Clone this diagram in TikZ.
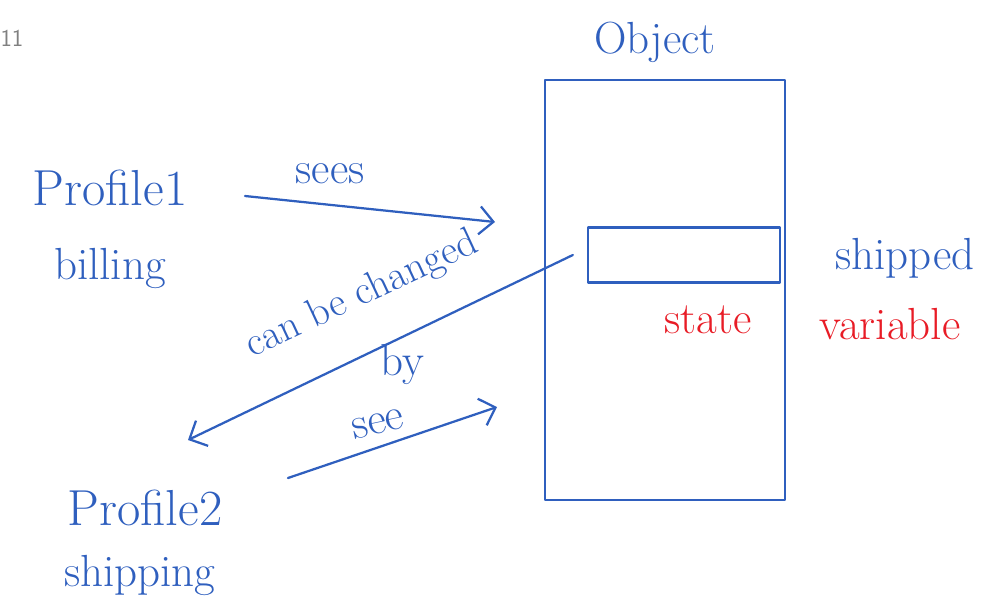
\documentclass[tikz,border=0pt]{standalone}
\usepackage{tikz}
\usetikzlibrary{arrows.meta}

\definecolor{penblue}{RGB}{47,95,190}
\definecolor{penred}{RGB}{232,28,38}

\begin{document}
\begin{tikzpicture}[x=0.025cm,y=-0.025cm,
    hand/.style={text=penblue,font=\fontsize{32}{38}\selectfont,inner sep=1pt},
    redhand/.style={text=penred,font=\fontsize{32}{38}\selectfont,inner sep=1pt},
    pen/.style={draw=penblue,line width=1.6pt,line cap=round,line join=round},
    arr/.style={pen,-{Straight Barb[length=3.5mm,width=7mm,line width=1.6pt]}}]
  \useasboundingbox (0,0) rectangle (1002,614);

  % page number
  \node[text=gray,font=\sffamily\LARGE,inner sep=1pt] (pg) at (12,38) {11};

  % the object and its state variable
  \node[pen,minimum width=6cm,minimum height=10.5cm] (obj) at (665,290) {};
  \node[hand] (objlbl) at (655,42) {Object};
  \node[pen,minimum width=4.8cm,minimum height=1.375cm] (state) at (684,255) {};
  \node[hand] (shipped) at (905,258) {shipped};
  \node[redhand] (st) at (708,320) {state};
  \node[redhand] (var) at (890,324) {variable};

  % profiles
  \node[hand,font=\fontsize{36}{42}\selectfont] (p1) at (110,188) {Profile1};
  \node[hand] (p1b) at (110,268) {billing};
  \node[hand,font=\fontsize{36}{42}\selectfont] (p2) at (145,508) {Profile2};
  \node[hand] (p2b) at (140,575) {shipping};

  % arrows
  \coordinate (a1) at (245,196);
  \coordinate (a1e) at (495,222);
  \coordinate (a2e) at (188,440);
  \coordinate (a3) at (288,478);
  \coordinate (a3e) at (497,407);
  \draw[arr] (a1) -- (a1e);
  \draw[arr] ([xshift=-0.35cm]state.west) -- (a2e);
  \draw[arr] (a3) -- (a3e);

  % labels
  \node[hand] (lsees) at (330,174) {sees};
  \node[hand,font=\fontsize{29}{34}\selectfont,rotate=25] (lchg) at (362,295) {can be changed};
  \node[hand] (lby) at (402,364) {by};
  \node[hand,rotate=12] (lsee) at (378,424) {see};
\end{tikzpicture}
\end{document}
